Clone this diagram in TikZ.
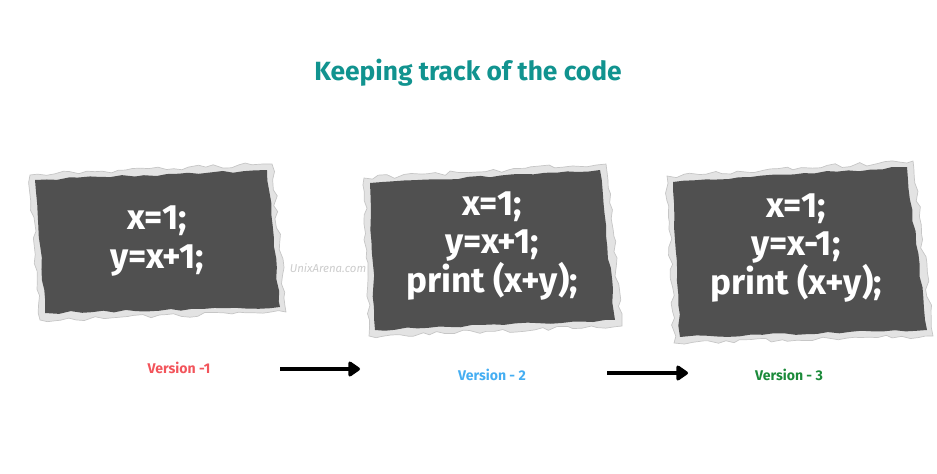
\documentclass[tikz,border=0pt]{standalone}
\usepackage{fontspec}
\setmainfont{Fira Sans}
\usepackage{tikz}
\usetikzlibrary{arrows.meta,decorations.pathmorphing}
\definecolor{teal1}{HTML}{11938F}
\definecolor{vred}{HTML}{F2545B}
\definecolor{vblue}{HTML}{45AEF2}
\definecolor{vgreen}{HTML}{1B8A3A}
\definecolor{board}{HTML}{505050}
\tikzset{
  paper/.style={decorate,decoration={random steps,segment length=1.6mm,amplitude=0.45mm},fill=gray!22,draw=gray!45,line width=0.4pt},
  slate/.style={decorate,decoration={random steps,segment length=2.2mm,amplitude=0.25mm},fill=board},
  code/.style={text=white,font=\bfseries\fontsize{20}{22}\selectfont,align=center},
  ver/.style={font=\bfseries\fontsize{8}{9}\selectfont},
  nxt/.style={line width=2.3pt,-{Triangle[round,length=2.6mm,width=3.4mm]}}
}

\begin{document}
\begin{tikzpicture}
\pgfmathsetseed{7}
\useasboundingbox (0,0) rectangle (18.74,9.46);
\node[text=teal1,font=\bfseries\fontsize{15}{17}\selectfont] (title) at (9.36,8.00) {Keeping track of the code};
% torn boards
\draw[paper] (0.60,5.96) -- (5.44,6.18) -- (5.72,3.22) -- (0.80,3.06) -- cycle;
\fill[slate] (0.70,5.86) -- (5.34,6.06) -- (5.60,3.32) -- (0.90,3.20) -- cycle;
\draw[paper] (7.28,5.90) -- (12.12,6.18) -- (12.44,2.94) -- (7.38,2.74) -- cycle;
\fill[slate] (7.40,5.80) -- (12.00,6.06) -- (12.30,3.06) -- (7.50,2.86) -- cycle;
\draw[paper] (13.34,5.94) -- (18.26,6.24) -- (18.66,2.74) -- (13.48,2.60) -- cycle;
\fill[slate] (13.46,5.82) -- (18.14,6.12) -- (18.54,2.86) -- (13.60,2.72) -- cycle;
\node[code] (code1) at (3.14,4.64) {x=1;\\y=x+1;};
\node[code] (code2) at (9.84,4.54) {x=1;\\y=x+1;\\print (x+y);};
\node[code] (code3) at (15.92,4.50) {x=1;\\y=x-1;\\print (x+y);};
\node[text=gray!40,font=\itshape\fontsize{6.5}{7}\selectfont] (mark) at (6.56,4.10) {UnixArena.com};
% versions
\node[ver,text=vred] (v1) at (3.58,2.10) {Version -1};
\node[ver,text=vblue] (v2) at (9.84,1.96) {Version - 2};
\node[ver,text=vgreen] (v3) at (15.78,1.96) {Version - 3};
\coordinate (a1) at (5.60,2.08); \coordinate (b1) at (7.20,2.08);
\coordinate (a2) at (12.14,2.00); \coordinate (b2) at (13.76,2.00);
\draw[nxt] (a1) -- (b1);
\draw[nxt] (a2) -- (b2);
\end{tikzpicture}
\end{document}
